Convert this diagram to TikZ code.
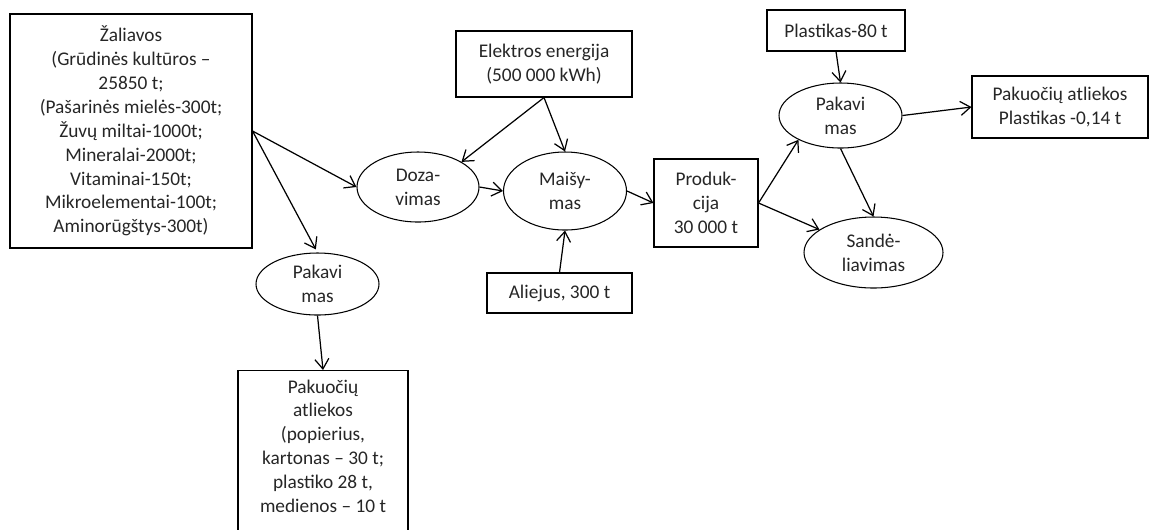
\documentclass[tikz,border=0pt]{standalone}
\usepackage{fontspec}
\setmainfont{Carlito}
\usetikzlibrary{shapes.geometric,arrows.meta}

\tikzset{
  box/.style={draw,line width=0.6pt,align=center,inner sep=0pt},
  stage/.style={draw,ellipse,line width=0.6pt,align=center,inner sep=0pt},
  flow/.style={->,line width=0.7pt},
  >={Straight Barb[length=2mm,width=2.8mm]}
}

\begin{document}
\begin{tikzpicture}[font=\fontsize{11}{13.6}\selectfont,text=black!85]
  \useasboundingbox (0,0) rectangle (23.1,-10.58);
  \clip (0,0) rectangle (23.1,-10.58);

  \node[box,minimum width=4.84cm,minimum height=4.68cm] (zaliavos) at (2.62,-2.62)
  {Žaliavos\\(Grūdinės kultūros --\\25850 t;\\(Pašarinės mielės-300t;\\Žuvų miltai-1000t;\\Mineralai-2000t;\\Vitaminai-150t;\\Mikroelementai-100t;\\Aminorūgštys-300t)};
  \node[stage,minimum width=2.44cm,minimum height=1.40cm] (dozavimas) at (8.36,-3.74) {Doza-\\vimas};
  \node[stage,minimum width=2.46cm,minimum height=1.56cm] (maisymas) at (11.30,-3.82) {Maišy-\\mas};
  \node[box,minimum width=3.52cm,minimum height=1.32cm] (elektra) at (10.88,-1.28)
  {Elektros energija\\(500 000 kWh)};
  \node[box,minimum width=2.90cm,minimum height=0.80cm] (aliejus) at (11.19,-5.86) {Aliejus, 300 t};
  \node[box,minimum width=2.08cm,minimum height=1.76cm] (produkcija) at (14.12,-4.06)
  {Produk-\\cija\\30 000 t};
  \node[box,minimum width=2.76cm,minimum height=0.82cm] (plastikas) at (16.72,-0.61) {Plastikas-80 t};
  \node[stage,minimum width=2.46cm,minimum height=1.30cm] (pakavimas) at (16.81,-2.31) {Pakavi\\mas};
  \node[box,minimum width=3.52cm,minimum height=1.24cm] (atliekos) at (21.20,-2.14)
  {Pakuočių atliekos\\Plastikas -0,14 t};
  \node[stage,minimum width=2.78cm,minimum height=1.42cm] (sandeliavimas) at (17.47,-5.05) {Sandė-\\liavimas};
  \node[stage,minimum width=2.46cm,minimum height=1.24cm] (pakavimasB) at (6.35,-5.68) {Pakavi\\mas};
  \node[box,anchor=north,minimum width=3.40cm,minimum height=3.40cm,text depth=0pt] (atliekosB) at (6.46,-7.40)
  {\rule{0pt}{0.1cm}Pakuočių\\atliekos\\(popierius,\\kartonas -- 30 t;\\plastiko 28 t,\\medienos -- 10 t\\[-0.1cm]};

  \draw[flow] (zaliavos.east) -- (dozavimas.west);
  \draw[flow,shorten >=2pt] (zaliavos.east) -- (pakavimasB.north);
  \draw[flow] (elektra.south) -- (dozavimas.30);
  \draw[flow] (elektra.south) -- (maisymas.north);
  \draw[flow] (dozavimas.east) -- (maisymas.west);
  \draw[flow] (aliejus.north) -- (maisymas.south);
  \draw[flow] (maisymas.east) -- (produkcija.west);
  \draw[flow] (produkcija.east) -- (pakavimas.210);
  \draw[flow] (produkcija.east) -- (sandeliavimas.157);
  \draw[flow] (plastikas.south) -- (pakavimas.north);
  \draw[flow] (pakavimas.east) -- (atliekos.west);
  \draw[flow] (pakavimas.south) -- (sandeliavimas.north);
  \draw[flow] (pakavimasB.south) -- (atliekosB.north);
\end{tikzpicture}
\end{document}
